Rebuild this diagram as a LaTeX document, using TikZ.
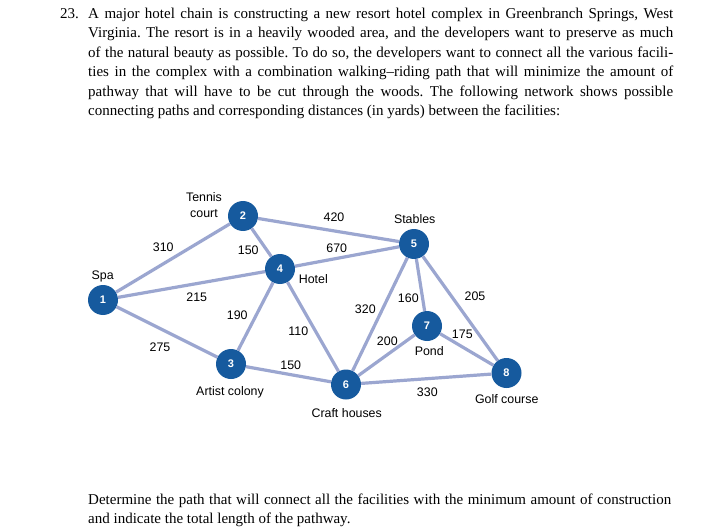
\documentclass[tikz,border=0pt]{standalone}
\usepackage{fontspec}
\setmainfont{Liberation Serif}
\setsansfont{Liberation Sans}
\definecolor{nodeblue}{RGB}{22,90,158}
\definecolor{edgeblue}{RGB}{155,166,208}
\frenchspacing
\begin{document}
\begin{tikzpicture}[x=1pt,y=-1pt]
\tikzset{
  fac/.style={circle, fill=nodeblue, minimum size=30pt, inner sep=0pt, text=white,
    font=\sffamily\bfseries\fontsize{11}{13}\selectfont},
  link/.style={draw=edgeblue, line width=3.2pt},
  lab/.style={anchor=base, inner sep=0pt, font=\sffamily\fontsize{12.4}{15}\selectfont},
  prose/.style={anchor=base west, inner sep=0pt, font=\rmfamily\fontsize{15}{19.5}\selectfont},
}
\fill[white] (0,0) rectangle (727,529);
\useasboundingbox (0,0) rectangle (727,529);

% question text
\node[prose] (num) at (60,18.5) {23.};
\node[prose] (para) at (88,18.5) {\vtop{\baselineskip=19.5pt\lineskiplimit=-20pt
  \hbox to 585pt{A major hotel chain is constructing a new resort hotel complex in Greenbranch Springs, West}
  \hbox to 585pt{Virginia. The resort is in a heavily wooded area, and the developers want to preserve as much}
  \hbox to 585pt{of the natural beauty as possible. To do so, the developers want to connect all the various facili-}
  \hbox to 585pt{ties in the complex with a combination walking–riding path that will minimize the amount of}
  \hbox to 585pt{pathway that will have to be cut through the woods. The following network shows possible}
  \hbox{connecting paths and corresponding distances (in yards) between the facilities:}}};
\node[prose] (task) at (88,504.5) {\vtop{\baselineskip=19pt\lineskiplimit=-20pt
  \hbox to 583pt{Determine the path that will connect all the facilities with the minimum amount of construction}
  \hbox{and indicate the total length of the pathway.}}};

% facilities
\node[fac] (n1) at (103,300) {1};
\node[fac] (n2) at (243,216) {2};
\node[fac] (n3) at (231,364) {3};
\node[fac] (n4) at (280,269) {4};
\node[fac] (n5) at (414,244) {5};
\node[fac] (n6) at (346,384.5) {6};
\node[fac] (n7) at (427,326) {7};
\node[fac] (n8) at (506.5,373) {8};

% paths
\draw[link] (n1) -- (n2);
\draw[link] (n1) -- (n4);
\draw[link] (n1) -- (n3);
\draw[link] (n2) -- (n4);
\draw[link] (n2) -- (n5);
\draw[link] (n4) -- (n5);
\draw[link] (n4) -- (n3);
\draw[link] (n4) -- (n6);
\draw[link] (n3) -- (n6);
\draw[link] (n5) -- (n6);
\draw[link] (n5) -- (n7);
\draw[link] (n5) -- (n8);
\draw[link] (n7) -- (n6);
\draw[link] (n7) -- (n8);
\draw[link] (n6) -- (n8);

% distances
\node[lab] (l12) at (163.3,251.2) {310};
\node[lab] (l24) at (248.3,254.5) {150};
\node[lab] (l25) at (334,221.8) {420};
\node[lab] (l45) at (336.7,252.8) {670};
\node[lab] (l14) at (196.7,301.2) {215};
\node[lab] (l34) at (237.3,319.2) {190};
\node[lab] (l46) at (298.3,335.2) {110};
\node[lab] (l13) at (160,351.8) {275};
\node[lab] (l36) at (290.7,369.8) {150};
\node[lab] (l56) at (365.3,313.8) {320};
\node[lab] (l57) at (408.3,302.8) {160};
\node[lab] (l58) at (475,300.2) {205};
\node[lab] (l67) at (387.3,345.5) {200};
\node[lab] (l78) at (462.3,338.8) {175};
\node[lab] (l68) at (427.3,396.5) {330};

% facility names
\node[lab] (tSpa) at (102.7,279.5) {Spa};
\node[lab] (tTen) at (204,201.5) {Tennis};
\node[lab] (tCourt) at (204,217.2) {court};
\node[lab] (tHotel) at (313.3,283.8) {Hotel};
\node[lab] (tArt) at (230,395.2) {Artist colony};
\node[lab] (tCraft) at (346.7,417.8) {Craft houses};
\node[lab] (tStab) at (414.7,223.8) {Stables};
\node[lab] (tPond) at (429.3,355.8) {Pond};
\node[lab] (tGolf) at (506.7,403.2) {Golf course};
\end{tikzpicture}
\end{document}
